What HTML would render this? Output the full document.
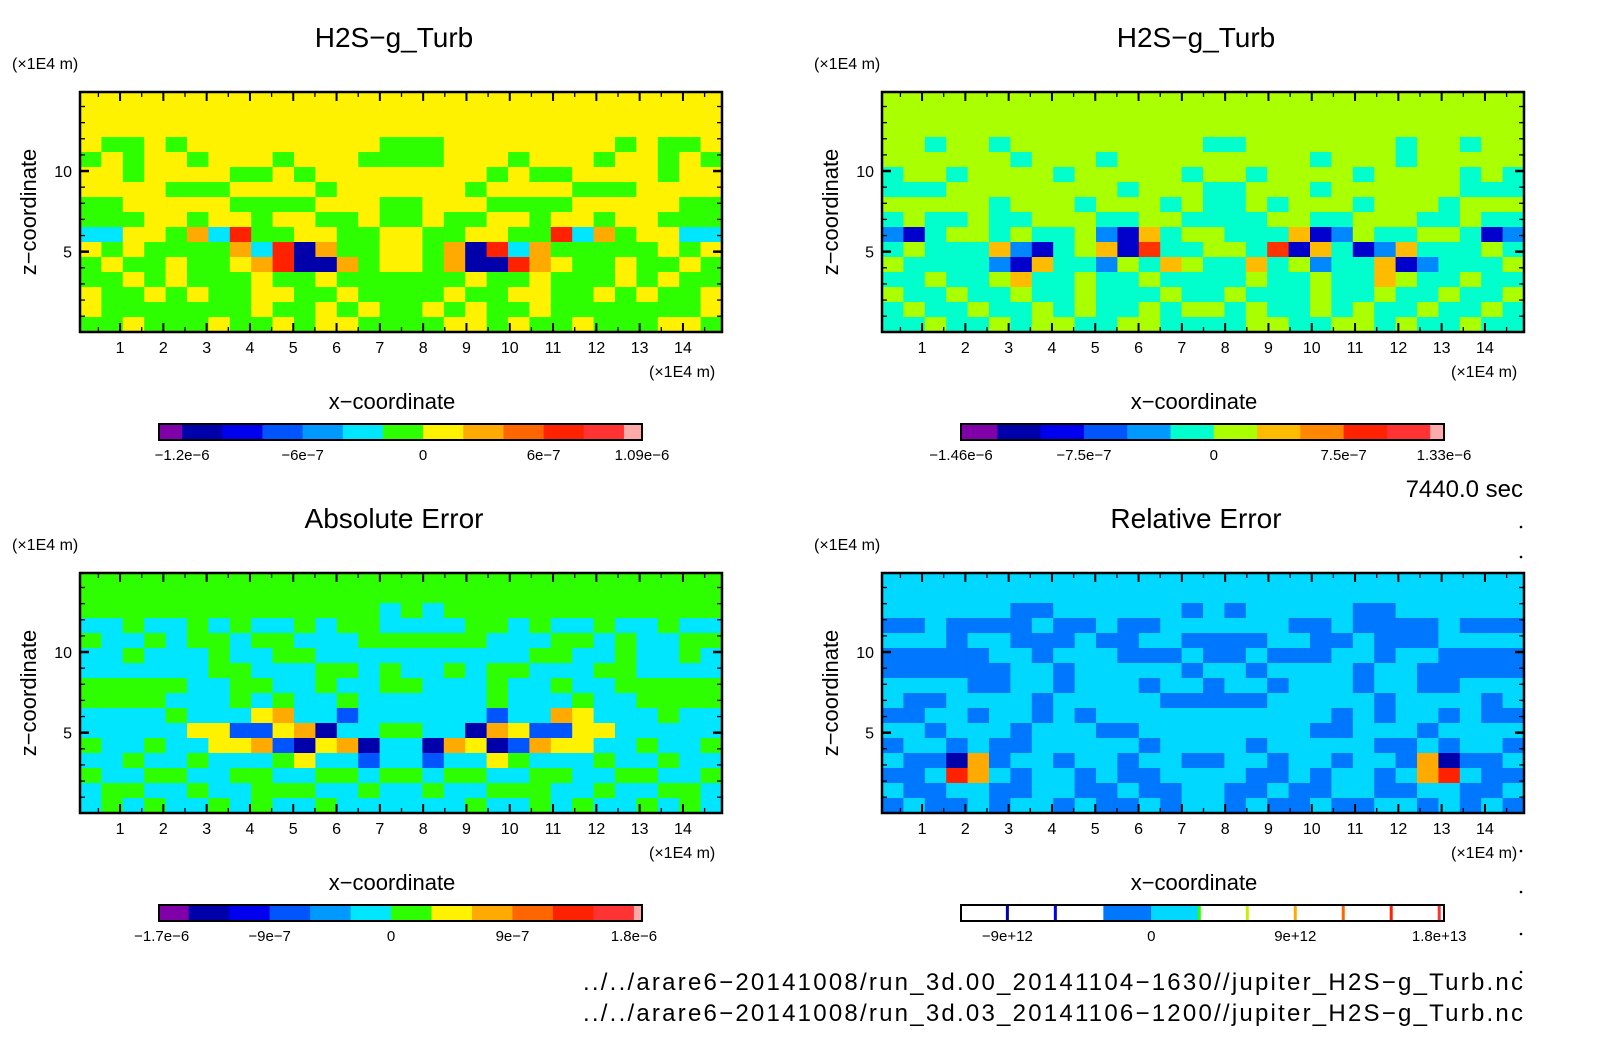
<!DOCTYPE html>
<html><head><meta charset="utf-8"><title>H2S-g_Turb comparison</title>
<style>html,body{margin:0;padding:0;background:#fff;}svg{display:block;font-family:"Liberation Sans",sans-serif;}</style>
</head><body>
<svg id="chart" width="1604" height="1054" viewBox="0 0 1604 1054" xmlns="http://www.w3.org/2000/svg">
<rect width="1604" height="1054" fill="#fff"/>
</svg>
<script>
// ---- data ----
const xTicks = [1,2,3,4,5,6,7,8,9,10,11,12,13,14];
const yTicks = [5,10];
const panelTitles = ["H2S\u2212g_Turb","H2S\u2212g_Turb","Absolute Error","Relative Error"];
const p1Rows = [
"YYYYYYYYYYYYYYYYYYYYYYYYYYYYYY",
"YYYYYYYYYYYYYYYYYYYYYYYYYYYYYY",
"YYYYYYYYYYYYYYYYYYYYYYYYYYYYYY",
"YGGYGYYYYYYYYYGGGYYYYYYYYGYGGY",
"GYGYYGYYYGYYYGGGGYYYGYYYGYYGYG",
"YYGYYYYGGYGYYYYYYYYGYGGYYYYGYY",
"YYYYGGGYYYYGYYYYYYGYYYYGGGYYYY",
"GGYYYYYGGGGYYYGGYYYGGGGYYYYYGG",
"GGGYYGYYGYYGGYGGYGGYYGYYGYYGGG",
"CCYYGOCRGGYYGGYYGGYYGGRCOGYYCC",
"YGYGGGGOCRBOGGYYGOBRCOGGGGGYGY",
"GYGGYGGYORBBOGYYGOBBROYGGYGGYG",
"GGYGYGGGYGGYGGGGGGYGGYGGGYGYGG",
"YGGYGYGGYYGGYGGGGYGGYYGGYGYGGY",
"YGGGGGGGYGGYGYGGYGYGGYGGGGGGGY",
"GGYGGGYGGYGYYGGGGYYGYGGYGGGYYG"];
const p2Rows = [
"AAAAAAAAAAAAAAAAAAAAAAAAAAAAAA",
"AAAAAAAAAAAAAAAAAAAAAAAAAAAAAA",
"AAAAAAAAAAAAAAAAAAAAAAAAAAAAAA",
"AATAATAAAAAAAAATTAAAAAAATAATAA",
"AAAAAATAAATAAAAAAAAATAAATAAAAA",
"TAATAAAATAAAAATAATAAAATAAAATAT",
"TTTAAAAAAAATAAATTAAATAAAAAATTT",
"AAAAATAAATAAATATTATAAATAAATAAA",
"TATTATTAAATTAATTTTAATTAAATTATT",
"LBTAATATTALBOTAATTTOBLATTAATBL",
"TATTTOLBTAOBRTTAATRBOTBLOTTTAT",
"ATTTTLBOTTLATOATTOTALTTOBLTTTA",
"TTATTAOTTATTATTTTATTATTOATTATT",
"ATTATTATTATTTATTATTTATTATTATTA",
"TATTATTATATTATAATATTATATTATTAT",
"TTATTATAATTAATTTTAATTAATATTATT"];
const p3Rows = [
"GGGGGGGGGGGGGGGGGGGGGGGGGGGGGG",
"GGGGGGGGGGGGGGGGGGGGGGGGGGGGGG",
"GGGGGGGGGGGGGGCGCGGGGGGGGGGGGG",
"CCGCCGCGCCGCGGCCCCGGCGCCGCCGCC",
"GCCGCGGCGGCCCGGGGGGCCCGGCGCCGG",
"CCGCCCGCCGGCCCCCCCCCCGGCCGCCGC",
"CCCCCCGGCCCGGCGCCGCGGCCCGGCCCC",
"GGGGGCCGGCCGCCGGCCCGCCGCCGGGGG",
"GGGGCCCGCGCCGCCCCCCGCCCGCCGGGG",
"CCCCGCCCYOCCLCCCCCCLCCOYCCCGCC",
"CCCCCYYLLYOBCCGGCCBOYLLYYCCCCC",
"GCCGCCYYOLBYOBCCBOYBLOYYCCGCCG",
"CCGCCGCCCGYCCLCCLCCYGCCCGCCGCC",
"GCCGGCCGGCCGGCGGCGGCCGGCCGGCCG",
"CGGCCGCCGGGCCGCCGCCGGGCCGCCGGC",
"CGCGCCGCGCCGCCCCCCGCCGCGCCGCGC"];
const p4Rows = [
"CCCCCCCCCCCCCCCCCCCCCCCCCCCCCC",
"CCCCCCCCCCCCCCCCCCCCCCCCCCCCCC",
"CCCCCCLLCCCCCCLCLCCCCCLLCCCCCC",
"LLCLLLLCLLCLLCCCCCCLLCLLLLCLLL",
"CCCLCCLLLCLLCCLLLLCCLLCLLLCCCC",
"LLLLLCCLCCCLLLCLLCLLLCCLCCLLLL",
"LLLLLLCCLCCCCCLCCLCCCCLCCLLLLL",
"CCCCLLCCLCCCLCCLCCLCCCLCCLLCCC",
"CLLCCCCLCCCCCLLLLLCCCCCLCCCCLC",
"LLCCLCCLCLCCCCCCCCCCCLCLCCLCLL",
"CCLCCCLCCCLLCCCCCCCCLLCCCLCCCC",
"LCCLCLLCCCCCLCCCCLCCCCCLLCLCCL",
"CLLBOLCCLCCLCCLLCCLCCLCCLOBLLC",
"LLCROCLCCLCLLCCCCLLCLCCLCORCLL",
"CLLCCLLCCLLCLLCCLLCLLCCLLCCLLC",
"LCLLCLCCLCLLCLCCLCLLCLLCCLCLCL"];
// colorbar data (values in units of the label)
const cb1Levels = [-1.315,-1.2,-1.0,-0.8,-0.6,-0.4,-0.2,0,0.2,0.4,0.6,0.8,1.0,1.09];
const cb1Labels = [[-1.2,"\u22121.2e\u22126"],[-0.6,"\u22126e\u22127"],[0,"0"],[0.6,"6e\u22127"],[1.09,"1.09e\u22126"]];
const cb2Levels = [-1.46,-1.25,-1.0,-0.75,-0.5,-0.25,0,0.25,0.5,0.75,1.0,1.25,1.33];
const cb2Labels = [[-1.46,"\u22121.46e\u22126"],[-0.75,"\u22127.5e\u22127"],[0,"0"],[0.75,"7.5e\u22127"],[1.33,"1.33e\u22126"]];
const cb3Levels = [-1.72,-1.5,-1.2,-0.9,-0.6,-0.3,0,0.3,0.6,0.9,1.2,1.5,1.8,1.86];
const cb3Labels = [[-1.7,"\u22121.7e\u22126"],[-0.9,"\u22129e\u22127"],[0,"0"],[0.9,"9e\u22127"],[1.8,"1.8e\u22126"]];
const cb4Levels = [-11.9,-9,-6,-3,0,3,6,9,12,15,18,18.3];
const cb4Labels = [[-9,"\u22129e+12"],[0,"0"],[9,"9e+12"],[18,"1.8e+13"]];
// ---- styling ----
const NS="http://www.w3.org/2000/svg";
const svg=document.getElementById('chart');
const P={purple:"#8000aa",navy:"#0000aa",blue:"#0000ee",blue2:"#0055ff",lb:"#0099ff",cyan:"#00e6ff",green:"#2eff00",yellow:"#fff200",orange:"#ffaa00",dko:"#ff6600",red:"#ff2200",red2:"#ff3333",pink:"#ffaaaa"};
const cmapA={Y:P.yellow,G:P.green,C:P.cyan,B:P.navy,R:P.red,O:P.orange,L:P.blue2};
const cmapB={A:"#aaff00",T:"#00ffcc",L:"#0088ff",B:"#0000cc",O:"#ffbb00",R:"#ff3300"};
const cmapC={G:P.green,C:P.cyan,L:P.blue2,B:P.navy,Y:P.yellow,O:P.orange,R:P.red};
const cmapD={C:"#00d8ff",L:"#0077ff",B:"#0000aa",R:"#ff2200",O:"#ffaa00",Y:"#fff200"};
const cbColors1=[P.purple,P.navy,P.blue,P.blue2,P.lb,P.cyan,P.green,P.yellow,P.orange,P.dko,P.red,P.red2,P.pink];
const cbColors2=[P.purple,P.navy,P.blue,P.blue2,P.lb,"#00ffcc","#aaff00","#ffbb00","#ff8800","#ff2200","#ff3333",P.pink];
function el(tag,attrs,parent){const e=document.createElementNS(NS,tag);for(const k in attrs)e.setAttribute(k,attrs[k]);(parent||svg).appendChild(e);return e;}
function txt(x,y,s,size,anchor,parent){const t=el('text',{x:x,y:y,'font-size':size,'text-anchor':anchor||'middle',fill:'#000'},parent);t.textContent=s;return t;}

const panels=[
 {ox:0,oy:0,rows:p1Rows,cmap:cmapA,cbL:cb1Levels,cbLab:cb1Labels,cbC:cbColors1},
 {ox:802,oy:0,rows:p2Rows,cmap:cmapB,cbL:cb2Levels,cbLab:cb2Labels,cbC:cbColors2},
 {ox:0,oy:481,rows:p3Rows,cmap:cmapC,cbL:cb3Levels,cbLab:cb3Labels,cbC:cbColors1},
 {ox:802,oy:481,rows:p4Rows,cmap:cmapD,cbL:cb4Levels,cbLab:cb4Labels,cbC:null}
];
panels.forEach((p,pi)=>{
  const g=el('g',{});
  
  
  const L=80+p.ox,R=722+p.ox,T=92+p.oy,B=332+p.oy;
  const xs=v=>L+(v-0.075)*43.3;
  const ys=v=>B-(v-0.02)*16.13;
  const tt=txt((L+R)/2-7,47+p.oy,panelTitles[pi],28,'middle',g);
  
  
  const ul=txt(12+p.ox,69+p.oy,"(\u00d71E4 m)",16,'start',g);
  
  
  const fg=el('g',{},g);
  
  
  const nr=p.rows.length,nc=p.rows[0].length,cw=(R-L)/nc,ch=(B-T)/nr;
  p.rows.forEach((row,r)=>{for(let c=0;c<nc;c++){
    const cell=el('rect',{x:L+c*cw,y:T+r*ch,width:cw+0.6,height:ch+0.6,fill:p.cmap[row[c]]},fg);
    
    
  }});
  const fr=el('rect',{x:L,y:T,width:R-L,height:B-T,fill:'none',stroke:'#000','stroke-width':2.5},g);
  
  
  for(let v=0.5;v<14.95;v+=0.5){const x=xs(v);const maj=Math.abs(v-Math.round(v))<1e-6;const len=maj?9:5;
    el('line',{x1:x,y1:B,x2:x,y2:B-len,stroke:'#000','stroke-width':maj?2:1.3},g);
    el('line',{x1:x,y1:T,x2:x,y2:T+len,stroke:'#000','stroke-width':maj?2:1.3},g);}
  for(let v=1;v<=14;v++){const y=ys(v);const maj=v%5===0;const len=maj?9:5;
    el('line',{x1:L,y1:y,x2:L+len,y2:y,stroke:'#000','stroke-width':maj?2.5:1.3},g);
    el('line',{x1:R,y1:y,x2:R-len,y2:y,stroke:'#000','stroke-width':maj?2.5:1.3},g);}
  xTicks.forEach(v=>{const t=txt(xs(v),353+p.oy,String(v),16,'middle',g);
    
    });
  yTicks.forEach(v=>{const t=txt(L-8,ys(v)+6,String(v),16,'end',g);
    
    });
  const xu=txt(R-73,377+p.oy,"(\u00d71E4 m)",16,'start',g);
  
  
  const xt=txt((L+R)/2-9,409+p.oy,"x\u2212coordinate",22,'middle',g);
  
  
  const yt=txt(0,0,"z\u2212coordinate",22,'middle',g);
  yt.setAttribute('transform','translate('+(36+p.ox)+','+(212+p.oy)+') rotate(-90)');
  
  
  const cg=el('g',{},g);
  
  
  const cL=159+p.ox,cR=642+p.ox,cT=424+p.oy,cB=440+p.oy;
  const lv=p.cbL,mn=lv[0],mx=lv[lv.length-1];
  const cs=v=>cL+(v-mn)/(mx-mn)*(cR-cL);
  if(p.cbC){
    for(let i=0;i<lv.length-1;i++){const s=el('rect',{x:cs(lv[i]),y:cT,width:cs(lv[i+1])-cs(lv[i])+0.4,height:cB-cT,fill:p.cbC[i]},cg);
      
      }
  } else {
    const fills=[[-3,0,"#0077ff"],[0,3,"#00d8ff"]];
    fills.forEach(f=>{const s=el('rect',{x:cs(f[0]),y:cT,width:cs(f[1])-cs(f[0]),height:cB-cT,fill:f[2]},cg);
      
      });
    const lines=[[-9,P.navy],[-6,P.blue],[3,P.green],[6,"#ccee00"],[9,P.orange],[12,P.dko],[15,P.red],[18,P.red2]];
    lines.forEach(l=>{const s=el('rect',{x:cs(l[0])-1.5,y:cT,width:3,height:cB-cT,fill:l[1]},cg);
      
      });
  }
  el('rect',{x:cL,y:cT,width:cR-cL,height:cB-cT,fill:'none',stroke:'#000','stroke-width':2},cg);
  p.cbLab.forEach(l=>{const t=txt(cs(l[0]),460+p.oy,l[1],15,'middle',cg);
    
    });
});
const tm=txt(1523,497,"7440.0 sec",24,'end');


[527,557,851,892,934,972].forEach(y=>{const d=el('circle',{cx:1521,cy:y,r:1.3,fill:'#000'});
  
  });
const f1=txt(1523,990,"../../arare6\u221220141008/run_3d.00_20141104\u22121630//jupiter_H2S\u2212g_Turb.nc",24,'end');
f1.setAttribute('textLength','940');


const f2=txt(1523,1021,"../../arare6\u221220141008/run_3d.03_20141106\u22121200//jupiter_H2S\u2212g_Turb.nc",24,'end');
f2.setAttribute('textLength','940');


</script>
</body></html>
